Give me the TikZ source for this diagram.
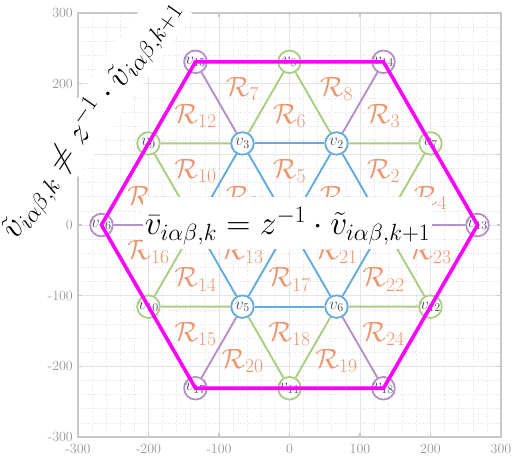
\RequirePackage{fix-cm}
\documentclass[tikz,border=0pt]{standalone}
\usepackage{amsmath, amssymb}
\usepackage{tikz}
\usetikzlibrary{calc}
\definecolor{latblue}{RGB}{100, 170, 220}
\definecolor{latgreen}{RGB}{170, 205, 130}
\definecolor{latpurple}{RGB}{182, 142, 200}
\definecolor{hexmagenta}{RGB}{255, 0, 255}
\definecolor{regorange}{RGB}{236, 150, 112}
\definecolor{vlabel}{RGB}{70, 80, 100}
\definecolor{axisgray}{RGB}{150, 150, 150}
\definecolor{framegray}{RGB}{200, 200, 200}
\definecolor{gridgray}{RGB}{228, 228, 228}

\begin{document}
\begin{tikzpicture}[
    x=0.705pt, y=0.7067pt,
    vtx/.style={
        circle, draw, fill=white, line width=1.8pt, minimum size=22.5pt, inner sep=0pt,
        text=vlabel, font=\fontsize{17}{18}\selectfont
    },
    vtx_in/.style={vtx, draw=latblue},
    vtx_mid/.style={vtx, draw=latgreen},
    vtx_out/.style={vtx, draw=latpurple},
    edge_in/.style={draw=latblue, line width=1.9pt},
    edge_mid/.style={draw=latgreen, line width=1.9pt},
    edge_out/.style={draw=latpurple, line width=1.9pt},
    hex_line/.style={draw=hexmagenta, line width=3.6pt, line join=miter},
    region_lbl/.style={text=regorange, inner sep=0pt, font=\fontsize{28}{30}\selectfont},
    eq_box/.style={fill=white, inner sep=0pt, inner xsep=2pt, font=\fontsize{33.5}{36}\selectfont},
    grid_minor/.style={draw=gridgray, line width=0.6pt, dash pattern=on 1pt off 1.5pt},
    grid_major/.style={draw=gridgray, line width=0.7pt},
    axis_line/.style={draw=framegray, line width=1.3pt},
    tick_lbl/.style={text=axisgray, inner sep=0pt, font=\fontsize{14}{16}\selectfont}
]
    \useasboundingbox (-410.6,-326.9) rectangle (315.6,318.4);

    % --- Axes background: grid, frame, ticks ---
    \foreach \g in {-280,-260,...,280} {
        \draw[grid_minor] (\g,-300) -- (\g,300);
        \draw[grid_minor] (-300,\g) -- (300,\g);
    }
    \foreach \g in {-200,-100,...,200} {
        \draw[grid_major] (\g,-300) -- (\g,300);
        \draw[grid_major] (-300,\g) -- (300,\g);
    }
    \draw[axis_line] (-300,-300) rectangle (300,300);
    \foreach \t in {-200,-100,...,200} {
        \draw[axis_line] (\t,-300) -- ++(0,6);
        \draw[axis_line] (\t,300) -- ++(0,-6);
        \draw[axis_line] (-300,\t) -- ++(6,0);
        \draw[axis_line] (300,\t) -- ++(-6,0);
    }
    \foreach \t in {-300,-200,...,300}
        \node[tick_lbl, anchor=north] (xt\t) at (\t,-310) {\t};
    \foreach \t in {-300,-200,-100,0,200,300}
        \node[tick_lbl, anchor=east] (yt\t) at (-307,\t) {\t};

    % --- Voltage vectors (triangular lattice) ---
    \coordinate (v0) at (0,0);
    \foreach \i/\a in {1/0, 2/60, 3/120, 4/180, 5/240, 6/300}
        \node[vtx_in] (v\i) at (\a:133.33) {$v_{\i}$};
    \foreach \i/\a in {7/30, 8/90, 9/150, 10/210, 11/270, 12/330}
        \node[vtx_mid] (v\i) at (\a:230.94) {$v_{\i}$};
    \foreach \i/\a in {13/0, 14/60, 15/120, 16/180, 17/240, 18/300}
        \node[vtx_out] (v\i) at (\a:266.67) {$v_{\i}$};

    % Inner hexagon and spokes
    \foreach \a/\b in {1/2, 2/3, 3/4, 4/5, 5/6, 6/1, 1/4, 2/5, 3/6}
        \draw[edge_in] (v\a) -- (v\b);
    % Middle ring
    \foreach \a/\b in {7/1, 7/2, 8/2, 8/3, 9/3, 9/4, 10/4, 10/5, 11/5, 11/6, 12/6, 12/1}
        \draw[edge_mid] (v\a) -- (v\b);
    % Outer spokes
    \foreach \a/\b in {13/1, 14/2, 15/3, 16/4, 17/5, 18/6}
        \draw[edge_out] (v\a) -- (v\b);

    % Outer hexagon
    \draw[hex_line] (v13.center) -- (v14.center) -- (v15.center) -- (v16.center)
        -- (v17.center) -- (v18.center) -- cycle;

    % --- Regions at triangle centroids ---
    \foreach \r/\p/\q/\s in {1/0/1/2, 2/1/2/7, 3/2/7/14, 4/1/7/13,
                             5/0/2/3, 6/2/3/8, 7/3/8/15, 8/2/8/14,
                             9/0/3/4, 10/3/4/9, 11/4/9/16, 12/3/9/15,
                             13/0/4/5, 14/4/5/10, 15/5/10/17, 16/4/10/16,
                             17/0/5/6, 18/5/6/11, 19/6/11/18, 20/5/11/17,
                             21/0/6/1, 22/1/6/12, 23/1/12/13, 24/6/12/18}
        \node[region_lbl] (R\r) at ($1/3*(v\p)+1/3*(v\q)+1/3*(v\s)$) {$\mathcal{R}_{\r}$};

    % --- Annotations ---
    \node[eq_box, anchor=base, text height=38pt, text depth=14pt] (eq_main) at (-2.8,-14.1)
        {$\bar{v}_{i\alpha\beta,k} = z^{-1}\cdot\tilde{v}_{i\alpha\beta,k+1}$};
    \node[eq_box, rotate=55, inner ysep=4pt] (eq_rot) at (-282,150)
        {$\tilde{v}_{i\alpha\beta,k} \neq z^{-1}\cdot\tilde{v}_{i\alpha\beta,k+1}$};

\end{tikzpicture}
\end{document}
